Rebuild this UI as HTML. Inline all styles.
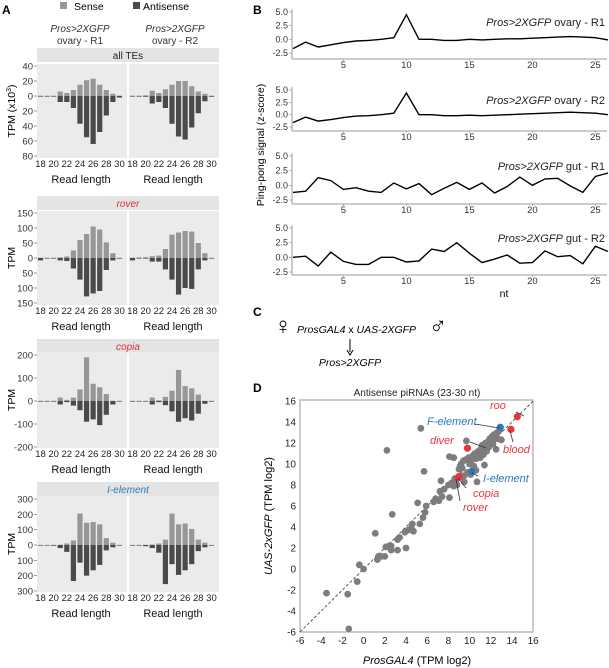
<!DOCTYPE html>
<html><head><meta charset="utf-8"><style>
body{margin:0;background:#fff;}
svg{display:block;font-family:"Liberation Sans",Arial,sans-serif;}
</style></head><body>
<svg id="fig" width="609" height="668" viewBox="0 0 609 668"></svg>
<script>
// ---------- Panel A data ----------
const readLengths=[18,19,20,21,22,23,24,25,26,27,28,29,30];
const allTE_R1_sense=[0.5,0.5,0.5,6,4,8,15,21,23,15,8,3,0.5];
const allTE_R1_anti=[0.5,0.5,0.5,8,8,16,37,55,64,48,26,8,2];
const allTE_R2_sense=[0.5,0.5,1,7,4,9,15,20,20,13,6,3,0.5];
const allTE_R2_anti=[0.5,0.5,1,10,8,16,37,54,58,42,23,7,1];
const rover_R1_sense=[1,1,1,2,5,25,60,80,105,95,52,16,1];
const rover_R1_anti=[8,1,2,8,10,35,72,128,118,110,40,8,2];
const rover_R2_sense=[1,2,3,6,8,30,78,85,90,88,50,16,1];
const rover_R2_anti=[8,1,2,12,12,38,72,122,100,103,38,8,2];
const copia_R1_sense=[1,1,1,15,5,15,50,190,75,60,30,1,1];
const copia_R1_anti=[1,1,1,15,5,20,40,90,80,105,60,15,1];
const copia_R2_sense=[1,1,1,15,3,18,45,135,65,55,28,1,1];
const copia_R2_anti=[1,1,2,15,5,18,45,90,75,85,55,12,1];
const iel_R1_sense=[1,1,1,2,10,30,205,145,150,135,45,15,1];
const iel_R1_anti=[1,1,5,20,45,235,115,200,165,130,35,15,1];
const iel_R2_sense=[1,1,1,3,10,35,205,135,140,105,35,15,1];
const iel_R2_anti=[1,1,8,20,50,255,125,195,165,125,40,15,1];
const allTE_ticks=[40,20,0,20,40,60,80];
const rover_ticks=[150,100,50,0,50,100,150];
const copia_ticks=[200,100,0,-100,-200];
const iel_ticks=[300,200,100,0,100,200,300];
const xTickLabels=[18,20,22,24,26,28,30];
// ---------- Panel B data ----------
const nt=[1,2,3,4,5,6,7,8,9,10,11,12,13,14,15,16,17,18,19,20,21,22,23,24,25,26];
const pp_ovR1=[-1.7,-0.5,-1.4,-1.0,-0.6,-0.3,-0.2,0,0.3,4.5,0,0,-0.2,-0.2,0,-0.1,0,0.1,0.1,0.2,0.3,0.4,0.5,0.4,0.3,-0.1];
const pp_ovR2=[-1.6,-0.5,-1.3,-1.0,-0.6,-0.3,-0.2,0,0.3,4.4,0,0,-0.2,-0.2,-0.1,-0.2,-0.1,0,0.1,0.2,0.3,0.4,0.5,0.4,0.3,0];
const pp_gutR1=[-1.2,-1.0,1.3,0.8,-0.7,-0.4,-1.0,-1.2,0.4,-0.6,0.3,-1.6,-0.5,0.5,-0.7,0.4,-1.3,-0.2,1.4,0,1.1,1.2,-0.1,-1.2,1.5,2.1];
const pp_gutR2=[0,0.2,-1.5,0.9,-0.7,-1.2,-1.2,0,0,-0.8,-0.6,1.4,1.0,2.5,0.7,-0.9,-0.3,0.4,-1.0,-0.9,1.1,0.1,0.3,-1.1,1.9,1.0];
const ppYTicks=[5.0,2.5,0.0,-2.5];
const ppXTicks=[5,10,15,20,25];
// ---------- Panel D data ----------
const scatterX=[-3.5,-1.5,-1.4,-0.6,-0.4,0,1.1,1.3,1.4,1.7,2,2.1,2.2,2.4,2.6,2.6,2.7,3.2,3.2,3.4,3.9,4,4.2,4.5,4.6,4.7,5.1,5.3,5.4,5.6,5.7,5.8,5.9,6.6,6.8,7.1,7.2,7.3,7.4,7.6,8,8.1,8.1,8.3,8.5,8.5,8.6,8.8,9,9.1,9.2,9.3,9.4,9.5,9.6,9.7,9.5,9.8,9.9,10,10.2,10.3,10.4,10.5,10.6,10.7,10.8,10.9,11,11.1,11.2,11.3,11.4,11.5,11.6,11.7,11.8,11.9,12,12.1,12.2,12.3,12.4,12.5,12.6,12.7,12.8,13,10.4,10.1,9.2,8.7,10.6,11.5,12.2];
const scatterY=[-2.3,-2.4,-5.7,-1.2,0.4,0,3.4,0.9,1.2,1.2,1.2,2.1,11.3,2.2,1.8,2.2,5.2,1.8,2.8,3.0,3.5,2.0,3.7,3.9,4.3,3.6,6.3,4.3,13.4,4.9,9.3,5.4,6.0,6.4,6.7,6.5,7.4,8.4,6.9,7.6,8,6.8,10.7,8.2,7.9,10.6,8.6,8.0,9.5,9.8,10.0,9.6,10.3,8.9,10.4,12.2,8.3,9.2,10.6,10,10.4,10.8,9.8,11,9.4,8.3,11.2,11.1,10.6,11.5,11.8,10.9,9.9,12,11.2,12.1,11.6,12.4,12.0,12.6,11.9,12.8,12.5,11.4,13,12.4,13.2,12.3,9.6,9.0,8.8,8.4,10.5,11.4,12.1];
const hlNames=["roo","blood","F-element","diver","I-element","copia","rover"];
const hlX=[14.5,13.9,12.9,9.8,10.2,9.0,8.9];
const hlY=[14.5,13.3,13.5,11.5,9.3,8.8,8.7];
const hlColor=["red","red","blue","red","blue","red","red"];
const dTicks=[-6,-4,-2,0,2,4,6,8,10,12,14,16];

const NS="http://www.w3.org/2000/svg";
const svg=document.getElementById('fig');
function el(tag,attrs,parent,text){const e=document.createElementNS(NS,tag);for(const k in attrs)e.setAttribute(k,attrs[k]);if(text!==undefined)e.textContent=text;(parent||svg).appendChild(e);return e;}
const SENSE="#979797",ANTI="#4a4a4a",PBG="#ebebeb";

let t;
t=el('text',{x:2,y:14,'font-size':12,'font-weight':'bold'},svg,'A');
t=el('text',{x:253,y:14,'font-size':12,'font-weight':'bold'},svg,'B');
t=el('text',{x:253,y:316,'font-size':12,'font-weight':'bold'},svg,'C');
t=el('text',{x:253,y:392,'font-size':12,'font-weight':'bold'},svg,'D');

let lg=el('g',{});
el('rect',{x:60,y:2,width:7,height:7,fill:SENSE},lg);
el('text',{x:74,y:10,'font-size':10.5},lg,'Sense');
el('rect',{x:133,y:2,width:7,height:7,fill:ANTI},lg);
el('text',{x:143,y:10,'font-size':10.5},lg,'Antisense');
[[80,'R1'],[175,'R2']].forEach(([cx,r])=>{
  const g=el('g',{});
  el('text',{x:cx,y:32,'font-size':10,'text-anchor':'middle','font-style':'italic',fill:'#333'},g,'Pros>2XGFP');
  el('text',{x:cx,y:44,'font-size':10,'text-anchor':'middle',fill:'#333'},g,'ovary - R'+r.slice(1));
});

function facet(name,color,stripY,pTop,pBot,zeroY,scale,ticks,tickVals,r1s,r1a,r2s,r2a,ytitle){
  const g=el('g',{});
  el('rect',{x:37,y:stripY,width:182,height:14,fill:'#e4e4e4'},g);
  const sl=el('text',{x:128,y:stripY+11,'font-size':10,'text-anchor':'middle',fill:color,'font-style':color==='#222'?'normal':'italic'},g,name);
  
  [[37,r1s,r1a],[129,r2s,r2a]].forEach(([x0,s,a])=>{
    el('rect',{x:x0,y:pTop,width:90,height:pBot-pTop,fill:PBG},g);
    const xs=l=>x0+3.5+(l-18)*6.58;
    readLengths.forEach((l,i)=>{
      const hs=s[i]*scale,ha=a[i]*scale;
      const b1=el('rect',{x:xs(l)-2.6,y:zeroY-hs,width:5.2,height:Math.max(hs,0.6),fill:SENSE},g);
      
      const b2=el('rect',{x:xs(l)-2.6,y:zeroY,width:5.2,height:Math.max(ha,0.6),fill:ANTI},g);
      
    });
    xTickLabels.forEach(l=>{el('text',{x:xs(l),y:pBot+9,'font-size':9.5,'text-anchor':'middle',fill:'#222'},g,l);});
    el('text',{x:x0+44,y:pBot+25,'font-size':11,'text-anchor':'middle',fill:'#111'},g,'Read length');
  });
  ticks.forEach((tv,i)=>{
    const v=tickVals[i];const y=zeroY-v*scale;
    el('text',{x:33,y:y+3.5,'font-size':9.5,'text-anchor':'end',fill:'#333'},g,tv);
    el('line',{x1:34,x2:37,y1:y,y2:y,stroke:'#555','stroke-width':0.6},g);
  });
  const yt=el('text',{x:0,y:0,'font-size':10.5,'text-anchor':'middle',transform:`translate(15,${(pTop+pBot)/2}) rotate(-90)`},g);
  if(ytitle){yt.innerHTML='TPM (x10<tspan dy="-4" font-size="7">3</tspan><tspan dy="4">)</tspan>';}else yt.textContent='TPM';
}
facet('all TEs','#222',48,64,158,96,0.75,allTE_ticks,[40,20,0,-20,-40,-60,-80],allTE_R1_sense,allTE_R1_anti,allTE_R2_sense,allTE_R2_anti,true);
facet('rover','#e0303a',196,211,305,258,0.3,rover_ticks,[150,100,50,0,-50,-100,-150],rover_R1_sense,rover_R1_anti,rover_R2_sense,rover_R2_anti,false);
facet('copia','#e0303a',339,352,448,401,0.23,copia_ticks,[200,100,0,-100,-200],copia_R1_sense,copia_R1_anti,copia_R2_sense,copia_R2_anti,false);
facet('I-element','#2a7ab8',482,496,592,545,0.1533,iel_ticks,[300,200,100,0,-100,-200,-300],iel_R1_sense,iel_R1_anti,iel_R2_sense,iel_R2_anti,false);

function ppPlot(name,title,series,top5,bot25,axisY){
  const g=el('g',{});
  const sc=(bot25-top5)/7.5;
  const ys=v=>top5+(5-v)*sc;
  const xs=n=>293+(n-1)*12.6;
  el('line',{x1:292,x2:292,y1:top5-3,y2:axisY,stroke:'#999','stroke-width':1},g);
  el('line',{x1:292,x2:607,y1:axisY,y2:axisY,stroke:'#999','stroke-width':1},g);
  ppYTicks.forEach(v=>{
    el('text',{x:288,y:ys(v)+3,'font-size':9,'text-anchor':'end',fill:'#333'},g,v.toFixed(1));
    el('line',{x1:289,x2:292,y1:ys(v),y2:ys(v),stroke:'#999','stroke-width':0.7},g);
  });
  ppXTicks.forEach(v=>{
    el('text',{x:xs(v),y:axisY+9,'font-size':9.5,'text-anchor':'middle',fill:'#333'},g,v);
    el('line',{x1:xs(v),x2:xs(v),y1:axisY,y2:axisY+2,stroke:'#999','stroke-width':0.7},g);
  });
  const pts=nt.map((n,i)=>xs(n).toFixed(1)+','+ys(series[i]).toFixed(1)).join(' ');
  const pl=el('polyline',{points:pts,fill:'none',stroke:'#000','stroke-width':1.4},g);
  
  const tt=el('text',{x:605,y:top5+14,'font-size':11,'text-anchor':'end',fill:'#222'},g);
  tt.innerHTML='<tspan font-style="italic">Pros&gt;2XGFP</tspan> '+title;
}
ppPlot('pingpong-ovary-r1','ovary - R1',pp_ovR1,12,53,59);
ppPlot('pingpong-ovary-r2','ovary - R2',pp_ovR2,90,127,131);
ppPlot('pingpong-gut-r1','gut - R1',pp_gutR1,156,200,204);
ppPlot('pingpong-gut-r2','gut - R2',pp_gutR2,228,272,275);
t=el('text',{x:0,y:0,'font-size':10.5,'text-anchor':'middle',transform:'translate(264,145) rotate(-90)'},svg,'Ping-pong signal (z-score)');

t=el('text',{x:504,y:297,'font-size':10.5,'text-anchor':'middle'},svg,'nt');


let gc=el('g',{});
el('text',{x:283,y:334,'font-size':24,'text-anchor':'middle'},gc,'♀');
el('text',{x:297,y:333,'font-size':10.5,'font-style':'italic'},gc).innerHTML='ProsGAL4<tspan font-style="normal"> x </tspan>UAS-2XGFP';
el('text',{x:438,y:334,'font-size':24,'text-anchor':'middle'},gc,'♂');
el('line',{x1:350,x2:350,y1:339,y2:352,stroke:'#000','stroke-width':1},gc);
el('path',{d:'M347,350 L350,355 L353,350',fill:'none',stroke:'#000','stroke-width':1},gc);
el('text',{x:350,y:366,'font-size':10.5,'font-style':'italic','text-anchor':'middle'},gc,'Pros>2XGFP');

const gd=el('g',{});
const dx=v=>300+(v+6)*10.6, dy=v=>632-(v+6)*10.5;
el('rect',{x:300,y:400,width:233,height:232,fill:'#fff',stroke:'#bbb','stroke-width':1.5},gd);
el('line',{x1:dx(-6),y1:dy(-6),x2:dx(16),y2:dy(16),stroke:'#333','stroke-width':0.8,'stroke-dasharray':'3,2'},gd);
dTicks.forEach(v=>{
  el('text',{x:dx(v),y:644,'font-size':10,'text-anchor':'middle',fill:'#222'},gd,v);
  el('text',{x:296,y:dy(v)+3.5,'font-size':10,'text-anchor':'end',fill:'#222'},gd,v);
});
scatterX.forEach((x,i)=>{
  const c=el('circle',{cx:dx(x),cy:dy(scatterY[i]),r:3.4,fill:'#7d7d7d'},gd);
  
});
const RED="#e8343c",BLUE="#2a7ab8";
hlNames.forEach((n,i)=>{
  const c=el('circle',{cx:dx(hlX[i]),cy:dy(hlY[i]),r:3.6,fill:hlColor[i]==='red'?RED:BLUE},gd);
  
});
const ann=[["roo",490,409,'start',RED,[516,412,524,416]],["F-element",427,425,'start',BLUE,[475,424,499,428]],["blood",503,453,'start',RED,[510,431,513,442]],["diver",430,444,'start',RED,[470,442,486,448]],["I-element",483,482,'start',BLUE,[478,476,472,473]],["copia",473,497,'start',RED,[466,488,458,478]],["rover",463,511,'start',RED,[460,501,456,479]]];
ann.forEach(a=>{
  const tx=el('text',{x:a[1],y:a[2],'font-size':11,'font-style':'italic','text-anchor':a[3],fill:a[4]},gd,a[0]);
  
  el('line',{x1:a[5][0],y1:a[5][1],x2:a[5][2],y2:a[5][3],stroke:'#333','stroke-width':0.8},gd);
});
t=el('text',{x:417,y:396,'font-size':10,'text-anchor':'middle',fill:'#222'},svg,'Antisense piRNAs (23-30 nt)');

t=el('text',{x:0,y:0,'font-size':11,'text-anchor':'middle',transform:'translate(272,516) rotate(-90)'},svg);
t.innerHTML='<tspan font-style="italic">UAS-2xGFP</tspan>  (TPM log2)';

t=el('text',{x:417,y:664,'font-size':11,'text-anchor':'middle'},svg);
t.innerHTML='<tspan font-style="italic">ProsGAL4</tspan> (TPM log2)';

</script>
</body></html>
